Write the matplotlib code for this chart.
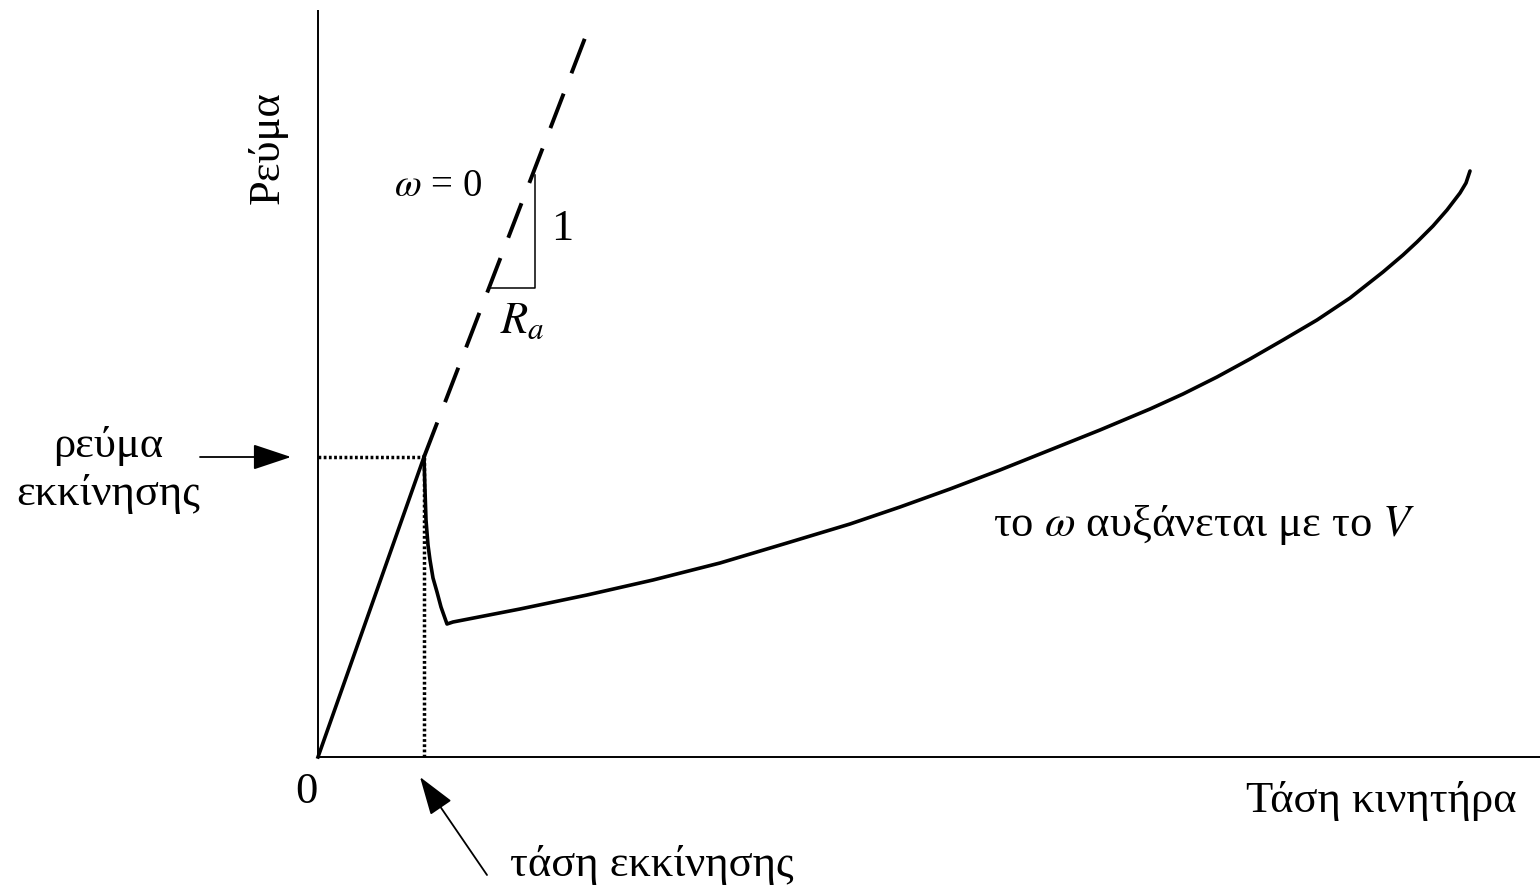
import matplotlib
matplotlib.use("Agg")
import matplotlib.pyplot as plt
from matplotlib.patches import ArrowStyle

plt.rcParams['font.family'] = ['Liberation Serif', 'DejaVu Serif']
plt.rcParams['mathtext.fontset'] = 'stix'

# operating point where the motor starts to turn
start_v = 1.06
start_i = 3.00

# locked rotor line (omega = 0), solid up to the start point then dashed
locked_v = [0.0, start_v]
locked_i = [0.0, start_i]
dash_v = [start_v, 2.67]
dash_i = [start_i, 7.19]

# current drop once the rotor starts
drop_v = [1.06, 1.07, 1.08, 1.10, 1.12, 1.15, 1.19, 1.23, 1.29]
drop_i = [3.00, 2.67, 2.37, 2.12, 1.97, 1.79, 1.65, 1.50, 1.33]

# then the current rises with the voltage
rise_v = [1.29, 1.35, 2.02, 2.69, 3.35, 4.02, 4.69, 5.32, 5.82, 6.32,
          6.82, 7.32, 7.82, 8.32, 8.65, 8.99, 9.32, 9.65, 9.99, 10.32,
          10.65, 10.85, 10.99, 11.15, 11.29, 11.42, 11.48, 11.52]
rise_i = [1.33, 1.35, 1.48, 1.62, 1.77, 1.94, 2.14, 2.33, 2.50, 2.68,
          2.87, 3.07, 3.27, 3.48, 3.63, 3.80, 3.98, 4.17, 4.37, 4.59,
          4.85, 5.02, 5.15, 5.31, 5.47, 5.64, 5.74, 5.86]

# slope triangle (1 / Ra)
tri_v = [1.72, 2.17, 2.17]
tri_i = [4.69, 4.69, 5.82]

fig = plt.figure(figsize=(15.4, 8.91), dpi=100)
ax = fig.add_axes([0, 0, 1, 1])
ax.set_xlim(-3.18, 12.22)
ax.set_ylim(-1.34, 7.57)
ax.axis('off')

# axes drawn by hand
ax.plot([0, 0], [0, 7.47], color='black', lw=1.4, solid_capstyle='butt')
ax.plot([0, 12.22], [0, 0], color='black', lw=1.4, solid_capstyle='butt')

ax.plot(locked_v, locked_i, color='black', lw=2.6)
ax.plot(dash_v, dash_i, color='black', lw=2.8, dashes=(9.5, 5.6))
ax.plot(drop_v + rise_v[1:], drop_i + rise_i[1:], color='black', lw=2.6,
        solid_joinstyle='round', solid_capstyle='round')
ax.plot(tri_v, tri_i, color='black', lw=1.1)

# dotted guides to the axes
ax.plot([0, start_v], [start_i, start_i], color='black', lw=2.5, dashes=(0.8, 0.7))
ax.plot([start_v, start_v], [0, start_i], color='black', lw=2.5, dashes=(0.8, 0.7))

head = ArrowStyle('-|>', head_length=1.2, head_width=0.4)
ax.annotate('', xy=(-0.27, start_i), xytext=(-1.18, start_i),
            arrowprops=dict(arrowstyle=head, mutation_scale=20, color='black',
                            lw=1.3, shrinkA=0, shrinkB=0))
ax.annotate('', xy=(1.02, -0.20), xytext=(1.69, -1.18),
            arrowprops=dict(arrowstyle=head, mutation_scale=20, color='black',
                            lw=1.3, shrinkA=0, shrinkB=0))

fs = 32
ax.text(-0.50, 6.09, 'Ρεύμα', rotation=90, ha='center', va='center', fontsize=fs)
ax.text(1.20, 5.71, r'$\omega$ = 0', ha='center', va='center', fontsize=28)
ax.text(2.44, 5.28, '1', ha='center', va='center', fontsize=fs)
ax.text(2.04, 4.35, r'$R_a$', ha='center', va='center', fontsize=fs)
ax.text(-2.10, 2.87, 'ρεύμα\nεκκίνησης', ha='center', va='center',
        fontsize=fs, linespacing=1.25)
ax.text(8.86, 2.32, r'το $\omega$ αυξάνεται με το $V$', ha='center',
        va='center', fontsize=fs)
ax.text(-0.12, -0.35, '0', ha='center', va='center', fontsize=fs)
ax.text(10.63, -0.44, 'Τάση κινητήρα', ha='center', va='center', fontsize=fs)
ax.text(3.34, -1.08, 'τάση εκκίνησης', ha='center', va='center', fontsize=fs)

fig.savefig('out.png', dpi=100)
